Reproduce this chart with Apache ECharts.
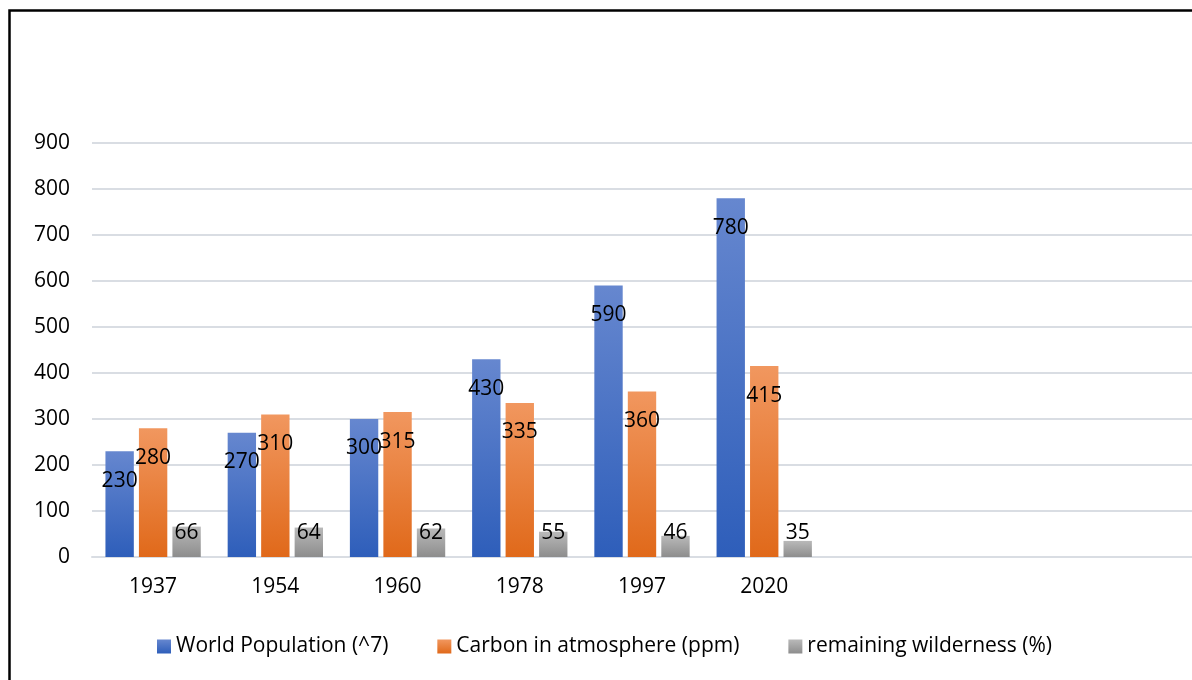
<!DOCTYPE html>
<html>
<head>
<meta charset="utf-8">
<title>World Population, Carbon and Wilderness</title>
<script src="https://cdn.jsdelivr.net/npm/echarts@6/dist/echarts.min.js"></script>
<style>
  html, body { margin: 0; padding: 0; background: #ffffff; }
  #chart { width: 1192px; height: 680px; }
</style>
</head>
<body>
<div id="chart"></div>
<script>
// Years on the category axis; the trailing blanks leave room on the right of the plot.
const years = ['1937', '1954', '1960', '1978', '1997', '2020', '', '', ''];
const yTicks = { min: 0, max: 900, interval: 100 };

const seriesNames = ['World Population (^7)', 'Carbon in atmosphere (ppm)', 'remaining wilderness (%)'];
const population = [230, 270, 300, 430, 590, 780, null, null, null];
const carbon = [280, 310, 315, 335, 360, 415, null, null, null];
const wilderness = [66, 64, 62, 55, 46, 35, null, null, null];

const FONT = '"Open Sans", "Noto Sans", sans-serif';

function vGrad(top, bottom) {
  return new echarts.graphic.LinearGradient(0, 0, 0, 1, [
    { offset: 0, color: top },
    { offset: 1, color: bottom }
  ]);
}

const labelStyle = { color: '#000000', fontSize: 21, fontFamily: FONT };

const chart = echarts.init(document.getElementById('chart'), null, { renderer: 'canvas' });

chart.setOption({
  backgroundColor: '#ffffff',
  animation: false,
  graphic: [{
    type: 'rect',
    silent: true,
    shape: { x: 9.5, y: 10.5, width: 1400, height: 900 },
    style: { fill: 'none', stroke: '#000000', lineWidth: 2.5 }
  }],
  grid: { left: 92, right: -2, top: 143, bottom: 123 },
  legend: {
    left: 152,
    top: 631,
    itemWidth: 14,
    itemHeight: 14,
    itemGap: 49,
    icon: 'rect',
    textStyle: { color: '#000000', fontSize: 21, fontFamily: FONT },
    data: seriesNames
  },
  xAxis: {
    type: 'category',
    data: years,
    axisLine: { lineStyle: { color: '#d9dde3', width: 2 } },
    axisTick: { show: false },
    axisLabel: { color: '#000000', fontSize: 21, fontFamily: FONT, margin: 20, interval: 0 }
  },
  yAxis: {
    type: 'value',
    min: yTicks.min,
    max: yTicks.max,
    interval: yTicks.interval,
    axisLine: { show: false },
    axisTick: { show: false },
    axisLabel: { color: '#000000', fontSize: 21, fontFamily: FONT, margin: 22 },
    splitLine: { lineStyle: { color: '#d9dde3', width: 2 } }
  },
  series: [
    {
      name: seriesNames[0],
      type: 'bar',
      data: population,
      barGap: '18%',
      barCategoryGap: '22%',
      itemStyle: { color: vGrad('#6687cf', '#2e5eba') },
      label: { show: true, position: 'insideTop', distance: 19, ...labelStyle }
    },
    {
      name: seriesNames[1],
      type: 'bar',
      data: carbon,
      itemStyle: { color: vGrad('#f1975f', '#e0691a') },
      label: { show: true, position: 'insideTop', distance: 19, ...labelStyle }
    },
    {
      name: seriesNames[2],
      type: 'bar',
      data: wilderness,
      itemStyle: { color: vGrad('#b9b9b9', '#8d8d8d') },
      label: { show: true, position: 'insideBottom', distance: 13, ...labelStyle }
    }
  ]
});
</script>
</body>
</html>
